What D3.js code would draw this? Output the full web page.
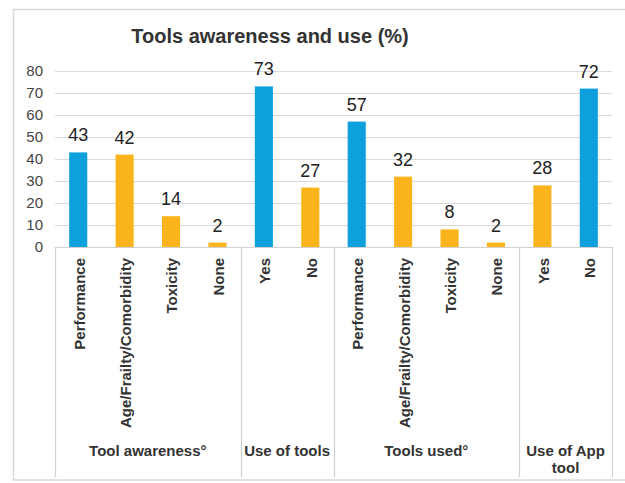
<!DOCTYPE html>
<html>
<head>
<meta charset="utf-8">
<script src="https://cdn.jsdelivr.net/npm/d3@7"></script>
<style>
  html, body { margin: 0; padding: 0; background: #fff; }
  svg { display: block; font-family: "Liberation Sans", Arial, sans-serif; }
</style>
</head>
<body>
<svg id="chart" width="625" height="483"></svg>
<script>
// ---- Data ----
const categories = ["Performance", "Age/Frailty/Comorbidity", "Toxicity", "None", "Yes", "No",
                    "Performance", "Age/Frailty/Comorbidity", "Toxicity", "None", "Yes", "No"];
const values = [43, 42, 14, 2, 73, 27, 57, 32, 8, 2, 28, 72];
const seriesKey = ["blue", "orange", "orange", "orange", "blue", "orange",
                   "blue", "orange", "orange", "orange", "orange", "blue"];
const groupLabels = [["Tool awareness°"], ["Use of tools"], ["Tools used°"], ["Use of App", "tool"]];
const groupSizes = [4, 2, 4, 2];
const yTicks = [0, 10, 20, 30, 40, 50, 60, 70, 80];
const title = "Tools awareness and use (%)";

// ---- Layout ----
const svg = d3.select("#chart");
const mLeft = 55, mRight = 612, mTop = 71, mBottom = 247, axisBottom = 477;

const x = d3.scaleBand().domain(d3.range(categories.length)).range([mLeft, mRight])
  .paddingInner(0.61).paddingOuter(0.305);
const y = d3.scaleLinear().domain([0, 80]).range([mBottom, mTop]);
const color = d3.scaleOrdinal().domain(["blue", "orange"]).range(["#0da0dc", "#fbb41c"]);

// frame
svg.append("rect").attr("x", 13.5).attr("y", 9.5).attr("width", 640).attr("height", 470.5)
  .attr("fill", "#fff").attr("stroke", "#d9d9d9").attr("stroke-width", 1.5);

// title
svg.append("text").attr("x", 270).attr("y", 43).attr("text-anchor", "middle")
  .attr("font-size", 20).attr("font-weight", "bold").attr("fill", "#333").text(title);

// gridlines
svg.append("g").selectAll("line").data(yTicks.filter(t => t > 0)).join("line")
  .attr("x1", mLeft).attr("x2", mRight)
  .attr("y1", d => Math.round(y(d)) + 0.5).attr("y2", d => Math.round(y(d)) + 0.5)
  .attr("stroke", "#d9d9d9").attr("stroke-width", 1.2);

// y axis labels
const yAxis = d3.axisLeft(y).tickValues(yTicks).tickSize(0).tickPadding(0);
const yg = svg.append("g").attr("transform", `translate(43,0)`).call(yAxis);
yg.select(".domain").remove();
yg.selectAll("text").attr("font-size", 15).attr("fill", "#444")
  .attr("font-family", "'Liberation Sans', Arial, sans-serif");

// bars
svg.append("g").selectAll("rect").data(values).join("rect")
  .attr("x", (d, i) => x(i)).attr("width", x.bandwidth())
  .attr("y", d => y(d)).attr("height", d => y(0) - y(d))
  .attr("fill", (d, i) => color(seriesKey[i]));

// data labels
svg.append("g").selectAll("text").data(values).join("text")
  .attr("x", (d, i) => x(i) + x.bandwidth() / 2).attr("y", d => y(d) - 11)
  .attr("text-anchor", "middle").attr("font-size", 18).attr("fill", "#222")
  .text(d => d);

// category axis line
svg.append("line").attr("x1", mLeft).attr("x2", mRight).attr("y1", mBottom + 0.5).attr("y2", mBottom + 0.5)
  .attr("stroke", "#d0d0d0").attr("stroke-width", 1.2);

// group separators
const bounds = [0];
groupSizes.forEach(s => bounds.push(bounds[bounds.length - 1] + s));
const step = x.step();
const boundX = b => mLeft + b * step;
svg.append("g").selectAll("line").data(bounds).join("line")
  .attr("x1", d => Math.round(boundX(d)) + 0.5).attr("x2", d => Math.round(boundX(d)) + 0.5)
  .attr("y1", mBottom).attr("y2", axisBottom)
  .attr("stroke", "#d0d0d0").attr("stroke-width", 1.2);

// category labels (rotated)
svg.append("g").selectAll("text").data(categories).join("text")
  .attr("transform", (d, i) => `translate(${x(i) + x.bandwidth() / 2 + 1},258) rotate(-90)`)
  .attr("text-anchor", "end").attr("dy", "0.36em")
  .attr("font-size", 15).attr("font-weight", "bold").attr("fill", "#333")
  .text(d => d);

// group labels
groupLabels.forEach((lines, gi) => {
  const cx = (boundX(bounds[gi]) + boundX(bounds[gi + 1])) / 2;
  lines.forEach((ln, li) => {
    svg.append("text").attr("x", cx).attr("y", 456 + li * 17)
      .attr("text-anchor", "middle").attr("font-size", 15).attr("font-weight", "bold")
      .attr("fill", "#333").text(ln);
  });
});
</script>
</body>
</html>
